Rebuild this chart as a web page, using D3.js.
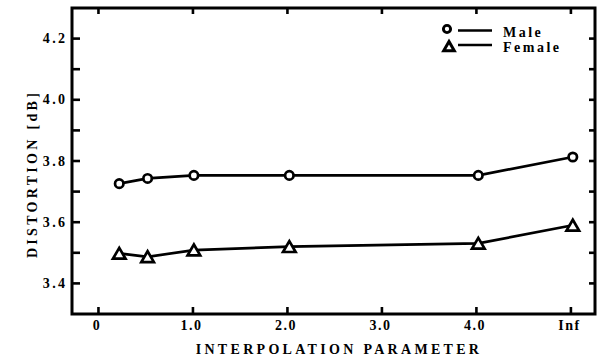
<!DOCTYPE html>
<html><head><meta charset="utf-8">
<script src="https://cdn.jsdelivr.net/npm/d3@7"></script>
<style>body{margin:0;background:#fff}svg{display:block}text{font-family:"Liberation Serif","Times New Roman",serif;font-weight:bold;fill:#000}</style>
</head><body>
<script>
const xTicks = [0, 1, 2, 3, 4, 5];
const xTickLabels = ["0", "1.0", "2.0", "3.0", "4.0", "Inf"];
const xVals = [0.22, 0.52, 1.01, 2.02, 4.02, 5.02];
const maleVals = [3.726, 3.743, 3.753, 3.753, 3.753, 3.813];
const femaleVals = [3.498, 3.487, 3.509, 3.520, 3.531, 3.590];
const yMajor = [3.4, 3.6, 3.8, 4.0, 4.2];
const yMinor = [3.4, 3.5, 3.6, 3.7, 3.8, 3.9, 4.0, 4.1, 4.2];
const seriesNames = ["Male", "Female"];

const W = 600, H = 358;
const svg = d3.select("body").append("svg").attr("width", W).attr("height", H);
const x = d3.scaleLinear().domain([-0.28, 5.255]).range([72, 595]);
const y = d3.scaleLinear().domain([3.3, 4.3]).range([314, 8]);

const tri = "M0,-6.5L6.3,4.3L-6.3,4.3Z";

// ticks inside
const g = svg.append("g");
g.selectAll(".yl").data(yMinor).join("line")
  .attr("x1", x.range()[0]).attr("x2", x.range()[0] + 8)
  .attr("y1", d => y(d)).attr("y2", d => y(d)).attr("stroke", "#000").attr("stroke-width", 2.6);
g.selectAll(".yr").data(yMinor).join("line")
  .attr("x1", x.range()[1]).attr("x2", x.range()[1] - 6)
  .attr("y1", d => y(d)).attr("y2", d => y(d)).attr("stroke", "#000").attr("stroke-width", 2.6);
g.selectAll(".xb").data(xTicks).join("line")
  .attr("x1", d => x(d)).attr("x2", d => x(d))
  .attr("y1", y.range()[0]).attr("y2", y.range()[0] - 7).attr("stroke", "#000").attr("stroke-width", 2.6);
g.selectAll(".xt").data(xTicks).join("line")
  .attr("x1", d => x(d)).attr("x2", d => x(d))
  .attr("y1", y.range()[1]).attr("y2", y.range()[1] + 6).attr("stroke", "#000").attr("stroke-width", 2.6);

// frame
svg.append("rect").attr("x", x.range()[0]).attr("y", y.range()[1])
  .attr("width", x.range()[1] - x.range()[0]).attr("height", y.range()[0] - y.range()[1])
  .attr("fill", "none").attr("stroke", "#000").attr("stroke-width", 3);

// tick labels
svg.selectAll(".ytl").data(yMajor).join("text")
  .attr("x", 67.5).attr("y", d => y(d) + 4.5).attr("text-anchor", "end")
  .attr("font-size", 14).attr("letter-spacing", 2.4).text(d => d.toFixed(1));
svg.selectAll(".xtl").data(xTicks).join("text")
  .attr("x", (d, i) => x(d) - 1.5).attr("y", 330).attr("text-anchor", "middle")
  .attr("font-size", 14).attr("letter-spacing", 1.5).text((d, i) => xTickLabels[i]);

// axis titles
svg.append("text").attr("x", 339).attr("y", 354).attr("text-anchor", "middle")
  .attr("font-size", 14).attr("letter-spacing", 3.3).text("INTERPOLATION PARAMETER");
svg.append("text").attr("transform", "translate(36.5,174) rotate(-90)").attr("text-anchor", "middle")
  .attr("font-size", 14).attr("letter-spacing", 3.3).text("DISTORTION [dB]");

// lines
const line = d3.line().x(d => x(d[0])).y(d => y(d[1]));
const maleData = xVals.map((v, i) => [v, maleVals[i]]);
const femaleData = xVals.map((v, i) => [v, femaleVals[i]]);
[maleData, femaleData].forEach(dat => {
  svg.append("path").datum(dat).attr("d", line).attr("fill", "none")
    .attr("stroke", "#000").attr("stroke-width", 2.7);
});
svg.selectAll(".mc").data(maleData).join("circle")
  .attr("cx", d => x(d[0])).attr("cy", d => y(d[1])).attr("r", 4.2)
  .attr("fill", "#fff").attr("stroke", "#000").attr("stroke-width", 2.7);
svg.selectAll(".ft").data(femaleData).join("path")
  .attr("transform", d => `translate(${x(d[0])},${y(d[1]) + 1})`).attr("d", tri)
  .attr("fill", "#fff").attr("stroke", "#000").attr("stroke-width", 2.7);

// legend
const lg = svg.append("g");
lg.append("line").attr("x1", 458).attr("x2", 492).attr("y1", 30.5).attr("y2", 30.5).attr("stroke", "#000").attr("stroke-width", 2.7);
lg.append("line").attr("x1", 458).attr("x2", 492).attr("y1", 45).attr("y2", 45).attr("stroke", "#000").attr("stroke-width", 2.7);
lg.append("circle").attr("cx", 447).attr("cy", 29).attr("r", 3.6).attr("fill", "#fff").attr("stroke", "#000").attr("stroke-width", 2.9);
lg.append("path").attr("transform", "translate(449,47)").attr("d", "M0,-5.5L5.3,3.8L-5.3,3.8Z").attr("fill", "#fff").attr("stroke", "#000").attr("stroke-width", 3);
lg.append("text").attr("x", 503).attr("y", 36.7).attr("font-size", 14).attr("letter-spacing", 2.5).text(seriesNames[0]);
lg.append("text").attr("x", 503).attr("y", 51.7).attr("font-size", 14).attr("letter-spacing", 2.5).text(seriesNames[1]);
</script>
</body></html>
